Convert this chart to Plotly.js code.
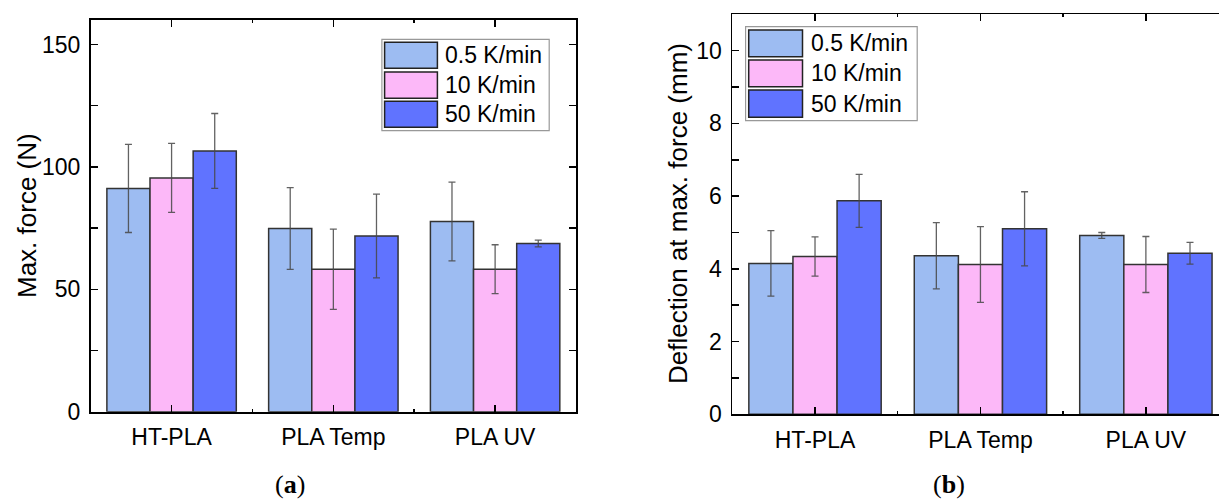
<!DOCTYPE html>
<html>
<head>
<meta charset="utf-8">
<script src="https://cdn.plot.ly/plotly-3.0.1.min.js"></script>
<style>
html,body{margin:0;padding:0;overflow:hidden;background:#fff;}
#chart{width:1240px;height:500px;}
</style>
</head>
<body>
<div id="chart"></div>
<script>
// ---- data ----
const categories = ['HT-PLA', 'PLA Temp', 'PLA UV'];
const seriesNames = ['0.5 K/min', '10 K/min', '50 K/min'];
const seriesColors = ['#9DBCF2', '#FCB8F8', '#6073FF'];

// (a) Max. force (N)
const force_05 = [91.2, 74.8, 77.7];
const force_05_err = [18.0, 16.7, 16.1];
const force_10 = [95.5, 58.2, 58.2];
const force_10_err = [14.1, 16.4, 10.0];
const force_50 = [106.5, 71.8, 68.7];
const force_50_err = [15.3, 17.1, 1.4];

// (b) Deflection at max. force (mm)
const defl_05 = [4.15, 4.36, 4.92];
const defl_05_err = [0.90, 0.91, 0.08];
const defl_10 = [4.34, 4.12, 4.12];
const defl_10_err = [0.54, 1.04, 0.77];
const defl_50 = [5.87, 5.10, 4.43];
const defl_50_err = [0.73, 1.02, 0.30];

const yTitleA = 'Max. force (N)';
const yTitleB = 'Deflection at max. force (mm)';

// ---- layout helpers ----
const W = 1240, H = 500;
const px = x => x / W;
const py = y => 1 - y / H;
const FONT = 'Liberation Sans, Arial, sans-serif';
const FS = 23;

const xIdx = categories.map((_, i) => i);
const forceVals = [force_05, force_10, force_50];
const forceErrs = [force_05_err, force_10_err, force_50_err];
const deflVals = [defl_05, defl_10, defl_50];
const deflErrs = [defl_05_err, defl_10_err, defl_50_err];

const traces = [];
function addBars(vals, errs, xa, ya) {
  seriesNames.forEach((name, s) => {
    traces.push({
      type: 'bar', name: name, x: xIdx, y: vals[s],
      xaxis: xa, yaxis: ya, showlegend: false,
      marker: {color: seriesColors[s], line: {color: '#333', width: 1.5}},
      error_y: {type: 'data', array: errs[s], visible: true, color: 'rgba(70,70,70,0.85)', thickness: 1.3, width: 3.5},
      hoverinfo: 'skip'
    });
  });
}
addBars(forceVals, forceErrs, 'x', 'y');
addBars(deflVals, deflErrs, 'x2', 'y2');

function xAxis(domain) {
  return {
    domain: domain, range: [-0.5, 2.5], tickmode: 'array', tickvals: xIdx, ticktext: categories,
    ticks: 'inside', ticklen: 7, tickwidth: 1.5, tickcolor: '#000',
    minor: {tickmode: 'array', tickvals: [0.5, 1.5], ticks: 'inside', ticklen: 3, tickwidth: 1.5, tickcolor: '#000'},
    showline: true, linewidth: 1.8, linecolor: '#000', mirror: 'ticks',
    showgrid: false, zeroline: false, fixedrange: true,
    tickfont: {family: FONT, size: FS, color: '#000'}, ticklabelstandoff: 4
  };
}
function yAxis(domain, range, dtick, minorDtick, anchor) {
  return {
    domain: domain, range: range, tick0: 0, dtick: dtick, anchor: anchor,
    ticks: 'inside', ticklen: 7, tickwidth: 1.5, tickcolor: '#000',
    minor: {dtick: minorDtick, tick0: 0, ticks: 'inside', ticklen: 7, tickwidth: 1.5, tickcolor: '#000'},
    showline: true, linewidth: 1.8, linecolor: '#000', mirror: 'ticks',
    showgrid: false, zeroline: false, fixedrange: true,
    tickfont: {family: FONT, size: FS, color: '#000'}, ticklabelstandoff: 4
  };
}

const shapes = [];
const annotations = [];

function addLegend(box, swX0, swX1, rows, textX) {
  shapes.push({type: 'rect', xref: 'paper', yref: 'paper', x0: px(box[0]), x1: px(box[2]), y0: py(box[3]), y1: py(box[1]),
    line: {color: '#999', width: 1.2}, fillcolor: 'rgba(255,255,255,0)'});
  seriesNames.forEach((name, s) => {
    shapes.push({type: 'rect', xref: 'paper', yref: 'paper', x0: px(swX0), x1: px(swX1), y0: py(rows[s][1]), y1: py(rows[s][0]),
      line: {color: '#222', width: 1.5}, fillcolor: seriesColors[s]});
    annotations.push({xref: 'paper', yref: 'paper', x: px(textX), y: py((rows[s][0] + rows[s][1]) / 2),
      xanchor: 'left', yanchor: 'middle', text: name, showarrow: false,
      font: {family: FONT, size: FS, color: '#000'}});
  });
}
addLegend([381.9, 39.3, 549.2, 130.6], 384.6, 437.4, [[42.3, 68.3], [72, 98.3], [101.3, 127.3]], 443);
addLegend([745.6, 26.7, 917.2, 120.7], 748.7, 802.5, [[30, 56.7], [60, 86.7], [90, 117.3]], 808.5);

// y titles
annotations.push({xref: 'paper', yref: 'paper', x: px(27), y: py(216), text: yTitleA, textangle: -90,
  showarrow: false, xanchor: 'center', yanchor: 'middle', font: {family: FONT, size: 26, color: '#000'}});
annotations.push({xref: 'paper', yref: 'paper', x: px(678), y: py(214), text: yTitleB, textangle: -90,
  showarrow: false, xanchor: 'center', yanchor: 'middle', font: {family: FONT, size: 26, color: '#000'}});
// captions
annotations.push({xref: 'paper', yref: 'paper', x: px(290), y: py(484), text: '(<b>a</b>)',
  showarrow: false, xanchor: 'center', yanchor: 'middle', font: {family: 'Liberation Serif, Times New Roman, serif', size: 26, color: '#000'}});
annotations.push({xref: 'paper', yref: 'paper', x: px(949), y: py(484), text: '(<b>b</b>)',
  showarrow: false, xanchor: 'center', yanchor: 'middle', font: {family: 'Liberation Serif, Times New Roman, serif', size: 26, color: '#000'}});

const layout = {
  width: W, height: H, margin: {l: 0, r: 0, t: 0, b: 0},
  paper_bgcolor: '#fff', plot_bgcolor: '#fff',
  barmode: 'group', bargap: 0.2, bargroupgap: 0,
  showlegend: false,
  xaxis: xAxis([px(90.7), px(576)]),
  yaxis: yAxis([py(411.7), py(20)], [0, 160], 50, 25, 'x'),
  xaxis2: Object.assign(xAxis([px(732.3), px(1228.6)]), {anchor: 'y2'}),
  yaxis2: yAxis([py(414.3), py(14.3)], [0, 11], 2, 1, 'x2'),
  shapes: shapes, annotations: annotations,
  font: {family: FONT, color: '#000'}
};
layout.xaxis.anchor = 'y';

Plotly.newPlot('chart', traces, layout, {displayModeBar: false, staticPlot: true});
</script>
</body>
</html>
